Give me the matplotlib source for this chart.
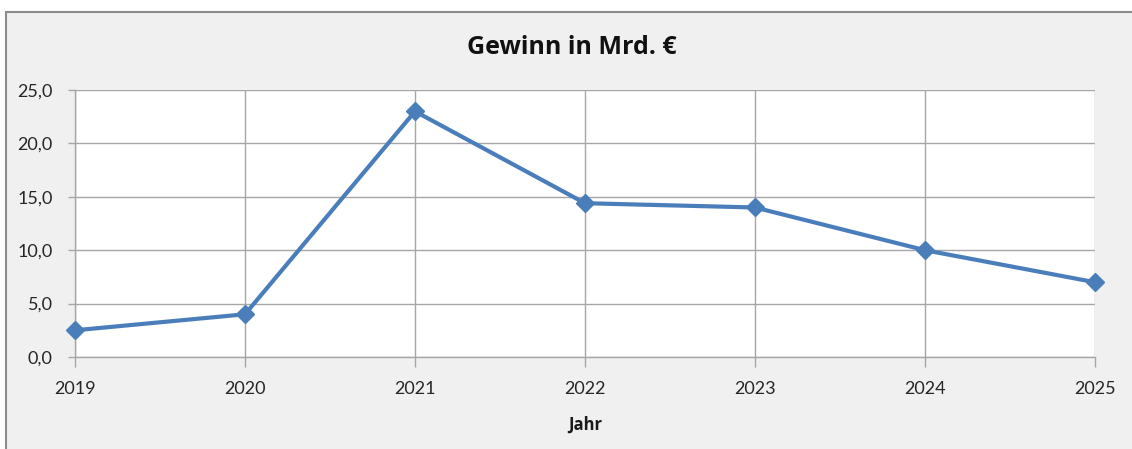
import matplotlib
matplotlib.use("Agg")
import matplotlib.pyplot as plt
from matplotlib.patches import Rectangle
from matplotlib.ticker import FuncFormatter

years = [2019, 2020, 2021, 2022, 2023, 2024, 2025]
gewinn = [2.5, 4.0, 23.0, 14.4, 14.0, 10.0, 7.0]
yticks = [0, 5, 10, 15, 20, 25]
title = "Gewinn in Mrd. €"
xlabel = "Jahr"

plt.rcParams['font.family'] = ['Lato', 'DejaVu Sans']

W, H = 1132, 449
fig = plt.figure(figsize=(W / 100, H / 100), dpi=100)
fig.patch.set_facecolor("white")

# chart panel with border
panel = Rectangle((6 / W, -0.1), 1.2, (H - 12) / H + 0.1, transform=fig.transFigure,
                  facecolor="#F0F0F0", edgecolor="#8C8C8C", linewidth=1.5, zorder=-10)
fig.patches.append(panel)

ax = fig.add_axes([75 / W, (H - 357) / H, (1095 - 75) / W, (357 - 90) / H])
ax.set_facecolor("white")

ax.plot(years, gewinn, color="#4A7EBB", linewidth=3, marker="D", markersize=9,
        markerfacecolor="#4A7EBB", markeredgecolor="#4A7EBB", zorder=5, clip_on=False)

ax.set_xlim(years[0], years[-1])
ax.set_ylim(0, 25)
ax.set_xticks(years)
ax.set_yticks(yticks)
ax.yaxis.set_major_formatter(FuncFormatter(lambda v, p: f"{v:.1f}".replace(".", ",")))

ax.grid(True, color="#A6A6A6", linewidth=1)
ax.set_axisbelow(True)
for s in ["top", "right"]:
    ax.spines[s].set_visible(False)
for s in ["left", "bottom"]:
    ax.spines[s].set_color("#A6A6A6")
    ax.spines[s].set_linewidth(1)
ax.tick_params(axis="both", colors="#A6A6A6", labelcolor="#262626", labelsize=13, width=1)
ax.tick_params(axis="x", length=7, pad=10)
ax.tick_params(axis="y", length=5, pad=11)

ax.set_xlabel(xlabel, fontsize=12, fontweight="bold", color="#1a1a1a", labelpad=14,
              family=['Open Sans', 'DejaVu Sans'])
fig.text(572 / W, (H - 48) / H, title, ha="center", va="center", fontsize=18,
         fontweight="bold", color="#111111", family=['Open Sans', 'DejaVu Sans'])

fig.savefig("out.png", dpi=100)
